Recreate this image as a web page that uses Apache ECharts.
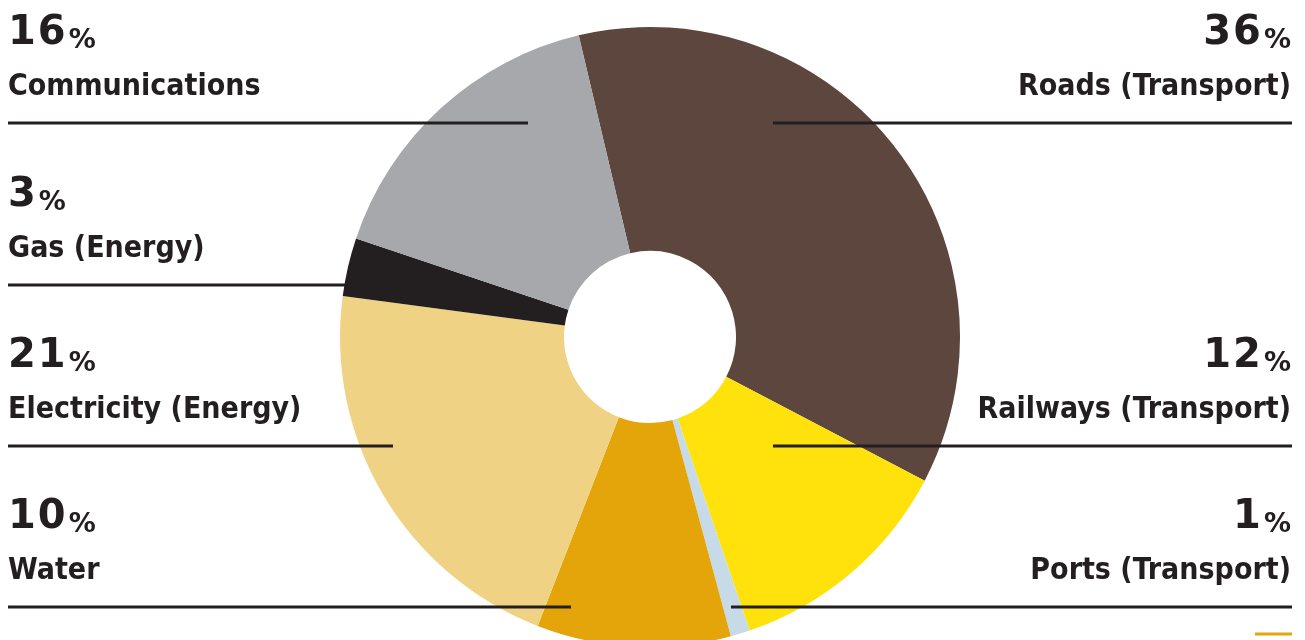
<!DOCTYPE html>
<html><head><meta charset="utf-8">
<script src="https://cdn.jsdelivr.net/npm/echarts@6/dist/echarts.min.js"></script>
<style>html,body{margin:0;padding:0;background:#fff}#c{width:1305px;height:640px}</style>
</head><body><div id="c"></div>
<script>
// ---- data ----
const categories = ['Roads (Transport)', 'Railways (Transport)', 'Ports (Transport)', 'Water', 'Electricity (Energy)', 'Gas (Energy)', 'Communications'];
const values = [36, 12, 1, 10, 21, 3, 16];
const colors = ['#5c463e', '#ffe20c', '#c6dbe7', '#e3a50a', '#f0d285', '#231f20', '#a7a8ab'];

// ---- layout of annotation labels (side, row, inner end of leader line) ----
const labelSide = ['right', 'right', 'right', 'left', 'left', 'left', 'left'];
const labelRow = [0, 2, 3, 3, 2, 1, 0];
const lineInnerX = [773, 773, 731, 571, 393, 345, 528];
const rowLineY = [123, 285, 446, 607];

const INK = '#231f20';
const FONT = '"DejaVu Sans", sans-serif';
const NAME_FONT = '"DejaVu Sans Condensed", "DejaVu Sans", sans-serif';
const LEFT_X = 8, RIGHT_X = 1291;

function pctRich(v) {
  const digits = String(v).split('');
  return digits.map((d, k) => (k < digits.length - 1 ? '{n|' : '{m|') + d + '}').join('') + '{p|%}';
}

const graphics = [];
categories.forEach((name, i) => {
  const y = rowLineY[labelRow[i]];
  const left = labelSide[i] === 'left';
  const x = left ? LEFT_X : RIGHT_X;
  graphics.push({
    type: 'line', silent: true,
    shape: { x1: left ? LEFT_X : lineInnerX[i], y1: y, x2: left ? lineInnerX[i] : RIGHT_X + 1, y2: y },
    style: { stroke: INK, lineWidth: 3 }, z: 10
  });
  graphics.push({
    type: 'text', silent: true, x: x, y: y - 69, z: 10,
    style: {
      text: pctRich(values[i]),
      textAlign: left ? 'left' : 'right', textVerticalAlign: 'bottom',
      rich: {
        n: { fontFamily: FONT, fontWeight: 'bold', fontSize: 40, fill: INK, verticalAlign: 'bottom', lineHeight: 40, padding: [0, 2, 0, 0] },
        m: { fontFamily: FONT, fontWeight: 'bold', fontSize: 40, fill: INK, verticalAlign: 'bottom', lineHeight: 40 },
        p: { fontFamily: FONT, fontWeight: 'bold', fontSize: 27, fill: INK, verticalAlign: 'bottom', lineHeight: 31, padding: [0, 0, 0, 3] }
      }
    }
  });
  graphics.push({
    type: 'text', silent: true, x: x, y: y - 21, z: 10,
    style: {
      text: name, fontFamily: NAME_FONT, fontWeight: 'bold', fontSize: 30, fill: INK,
      textAlign: left ? 'left' : 'right', textVerticalAlign: 'bottom'
    }
  });
});
graphics.push({
  type: 'line', silent: true, shape: { x1: 1255, y1: 634, x2: 1292, y2: 634 },
  style: { stroke: '#e3a50a', lineWidth: 3 }
});

const chart = echarts.init(document.getElementById('c'), null, { renderer: 'canvas' });
chart.setOption({
  animation: false,
  backgroundColor: '#ffffff',
  series: [{
    type: 'pie',
    center: [650, 337],
    radius: [86, 310],
    startAngle: 103.3,
    clockwise: true,
    avoidLabelOverlap: false,
    silent: true,
    label: { show: false },
    labelLine: { show: false },
    emphasis: { disabled: true },
    itemStyle: { borderWidth: 0 },
    data: categories.map((c, i) => ({ name: c, value: values[i], itemStyle: { color: colors[i] } }))
  }],
  graphic: graphics
});
</script></body></html>
